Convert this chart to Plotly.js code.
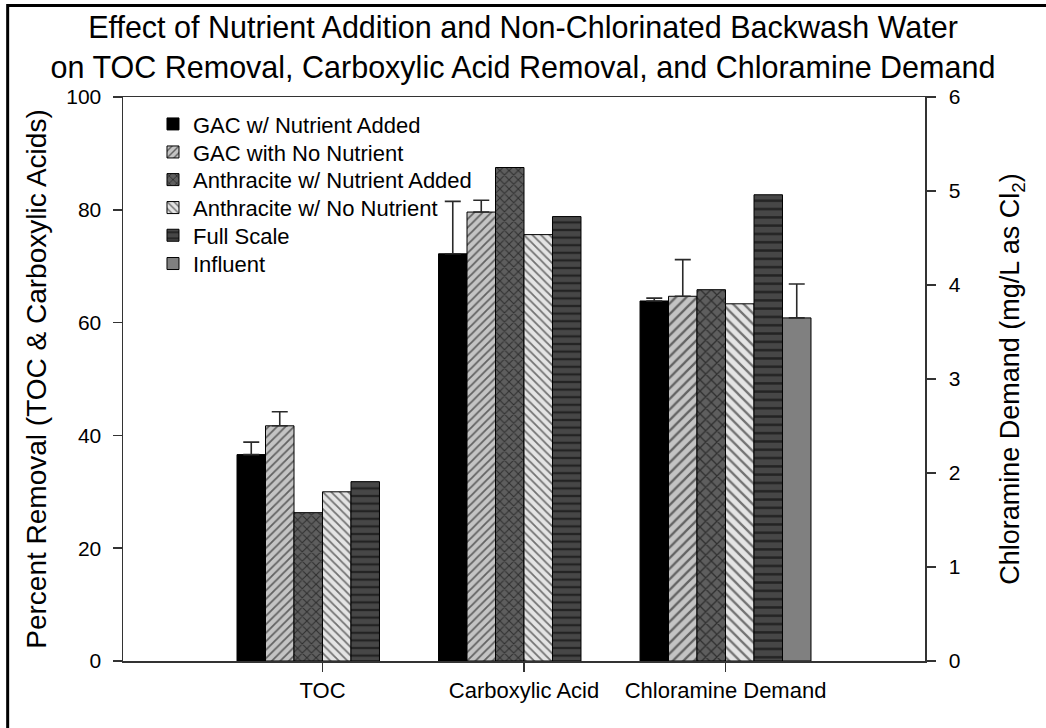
<!DOCTYPE html>
<html>
<head>
<meta charset="utf-8">
<script src="https://cdn.plot.ly/plotly-3.0.1.min.js"></script>
<style>html,body{margin:0;padding:0;background:#fff;}#chart{width:1046px;height:728px;}</style>
</head>
<body>
<div id="chart"></div>
<script>
// Categories
const removalCategories = ["TOC", "Carboxylic Acid"];
const demandCategory = ["Chloramine Demand"];
const seriesNames = ["GAC w/ Nutrient Added", "GAC with No Nutrient", "Anthracite w/ Nutrient Added", "Anthracite w/ No Nutrient", "Full Scale", "Influent"];

// Percent removal (TOC, Carboxylic Acid) per series
const gacNutrientRemoval = [36.6, 72.2];
const gacNoNutrientRemoval = [41.7, 79.6];
const anthNutrientRemoval = [26.3, 87.5];
const anthNoNutrientRemoval = [30.0, 75.6];
const fullScaleRemoval = [31.8, 78.8];

// Error (upper) for removal
const gacNutrientRemovalErr = [2.2, 9.3];
const gacNoNutrientRemovalErr = [2.5, 2.1];

// Chloramine demand (mg/L as Cl2) per series
const gacNutrientDemand = [3.83];
const gacNoNutrientDemand = [3.88];
const anthNutrientDemand = [3.95];
const anthNoNutrientDemand = [3.80];
const fullScaleDemand = [4.96];
const influentDemand = [3.65];

const gacNutrientDemandErr = [0.03];
const gacNoNutrientDemandErr = [0.39];
const influentDemandErr = [0.36];

const removalSeries = [gacNutrientRemoval, gacNoNutrientRemoval, anthNutrientRemoval, anthNoNutrientRemoval, fullScaleRemoval];
const removalErrs = [gacNutrientRemovalErr, gacNoNutrientRemovalErr, null, null, null];
const demandSeries = [gacNutrientDemand, gacNoNutrientDemand, anthNutrientDemand, anthNoNutrientDemand, fullScaleDemand, influentDemand];
const demandErrs = [gacNutrientDemandErr, gacNoNutrientDemandErr, null, null, null, influentDemandErr];

// styles
const styles = [
  {bg: "#000000", shape: "", fg: "#000000", size: 6, size2: 6},
  {bg: "#c4c4c4", shape: "/", fg: "#000000", size: 6, size2: 7.5},
  {bg: "#5e5e5e", shape: "x", fg: "#000000", size: 6.5, size2: 8},
  {bg: "#e4e4e4", shape: "\\", fg: "#000000", size: 6, size2: 7.5},
  {bg: "#474747", shape: "-", fg: "#000000", size: 7.6, size2: 8.3},
  {bg: "#808080", shape: "", fg: "#808080", size: 6, size2: 6}
];
const legendIds = ["legend", "legend2", "legend3", "legend4", "legend5", "legend6"];
const legendRowY = [0.9519, 0.9022, 0.8532, 0.8036, 0.7545, 0.7044];

const BW = 0.1414;
const traces = [];
function errObj(arr) {
  if (!arr) return {visible: false};
  return {type: "data", array: arr, arrayminus: arr.map(() => 0), symmetric: false,
          visible: true, color: "#2a2a2a", thickness: 1.6, width: 8};
}
function marker(st, big) {
  const m = {color: st.bg, line: {color: "#000", width: 1}};
  if (st.shape) {
    m.pattern = {shape: st.shape, bgcolor: st.bg, fgcolor: st.fg, size: big ? st.size2 : st.size, solidity: 0.3, fillmode: "overlay"};
  }
  return m;
}
removalSeries.forEach((vals, i) => {
  traces.push({
    type: "bar", name: seriesNames[i], x: removalCategories, y: vals,
    width: BW, offset: (i - 3) * BW, legendgroup: "g" + i, showlegend: true, legend: legendIds[i],
    marker: marker(styles[i], false), error_y: errObj(removalErrs[i]),
    xaxis: "x", yaxis: "y", hoverinfo: "x+y+name"
  });
});
demandSeries.forEach((vals, i) => {
  traces.push({
    type: "bar", name: seriesNames[i], x: demandCategory, y: vals,
    width: BW, offset: (i - 3) * BW, legendgroup: "g" + i, showlegend: i === 5, legend: legendIds[i],
    marker: marker(styles[i], true), error_y: errObj(demandErrs[i]),
    xaxis: "x", yaxis: "y2", hoverinfo: "x+y+name"
  });
});

const F = "Arial, 'Liberation Sans', sans-serif";
const layout = {
  width: 1046, height: 728,
  paper_bgcolor: "#ffffff", plot_bgcolor: "#ffffff",
  margin: {l: 122.5, r: 120.5, t: 96.5, b: 67.3, pad: 0},
  font: {family: F, color: "#000", size: 20},
  barmode: "overlay",
  title: {
    text: "Effect of Nutrient Addition and Non-Chlorinated Backwash Water<br>on TOC Removal, Carboxylic Acid Removal, and Chloramine Demand",
    font: {family: F, size: 30.5, color: "#000"},
    x: 0.5, xref: "container", xanchor: "center",
    y: 0.948, yref: "container", yanchor: "top"
  },
  xaxis: {
    type: "category", categoryorder: "array", categoryarray: ["TOC", "Carboxylic Acid", "Chloramine Demand"],
    range: [-0.99, 2.99], showline: true, linecolor: "#333", linewidth: 1.5, mirror: true,
    ticks: "outside", ticklen: 9, tickcolor: "#333", tickwidth: 1.5,
    showgrid: false, zeroline: false, tickfont: {size: 22}, fixedrange: true
  },
  yaxis: {
    range: [0, 100], dtick: 20, showline: true, linecolor: "#333", linewidth: 1.5,
    ticks: "outside", ticklen: 9, tickcolor: "#333", tickwidth: 1.5, ticklabelstandoff: 7,
    showgrid: false, zeroline: false, tickfont: {size: 21},
    title: {text: "Percent Removal (TOC & Carboxylic Acids)", font: {size: 28}, standoff: 11}
  },
  yaxis2: {
    overlaying: "y", side: "right", range: [0, 6], dtick: 1,
    showline: true, linecolor: "#333", linewidth: 1.5,
    ticks: "outside", ticklen: 9, tickcolor: "#333", tickwidth: 1.5, ticklabelstandoff: 9,
    showgrid: false, zeroline: false, tickfont: {size: 21},
    title: {text: "Chloramine Demand (mg/L as Cl<sub>2</sub>)", font: {size: 27}, standoff: 40}
  },
  shapes: [{
    type: "rect", xref: "paper", yref: "paper",
    x0: -0.1438, x1: 1.16, y0: -0.135, y1: 1.1622,
    line: {color: "#000", width: 3}, fillcolor: "rgba(0,0,0,0)", layer: "below"
  }],
  showlegend: true
};
legendIds.forEach((id, i) => {
  layout[id] = {x: 0.0374, y: legendRowY[i], xanchor: "left", yanchor: "middle",
    bgcolor: "rgba(0,0,0,0)", font: {size: 22}, borderwidth: 0};
});
Plotly.newPlot("chart", traces, layout, {displayModeBar: false, staticPlot: true});
</script>
</body>
</html>
